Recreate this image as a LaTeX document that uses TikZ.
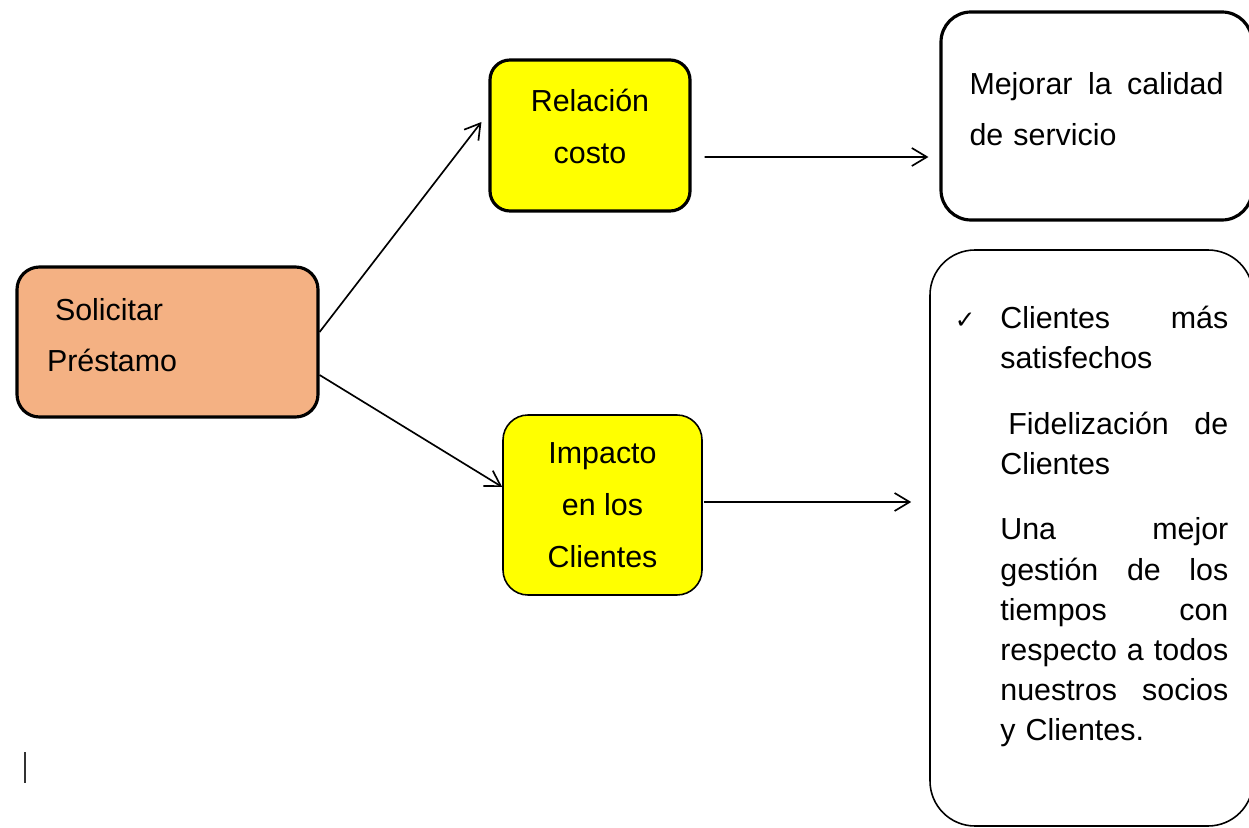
\documentclass[tikz,border=0pt]{standalone}
\usepackage{fontspec}
\setmainfont{Liberation Sans}
\newfontfamily\symbfont{DejaVu Sans}
\usetikzlibrary{arrows.meta, positioning}
\definecolor{salmon}{HTML}{F4B183}
\definecolor{brightyellow}{HTML}{FFFF00}

\begin{document}
\begin{tikzpicture}[>={Straight Barb[length=0.3cm, width=0.36cm]},
    box/.style={draw, rounded corners=0.45cm, line width=1.8pt, inner sep=0pt, font=\fontsize{17.3}{29.5}\selectfont},
    thinbox/.style={box, line width=0.9pt},
    link/.style={->, line width=0.95pt}]
                \useasboundingbox (0,0) rectangle (24.98,16.54);

                % Start
                \node[box, fill=salmon, minimum width=6.02cm, minimum height=3.0cm, text width=4.82cm, align=left] (solicitar) at (3.35,9.70) {\hspace{0.16cm}Solicitar\\Préstamo\rule[-0.28cm]{0pt}{0pt}};

                % Middle
                \node[box, fill=brightyellow, rounded corners=0.4cm, minimum width=4.0cm, minimum height=3.02cm, align=center] (relacion) at (11.80,13.83) {Relación\\costo\rule[-0.36cm]{0pt}{0pt}};
                \node[thinbox, fill=brightyellow, rounded corners=0.5cm, minimum width=3.98cm, minimum height=3.6cm, align=center] (impacto) at (12.05,6.44) {Impacto\\en los\\Clientes};

                % Results
                \node[box, rounded corners=0.6cm, minimum width=6.22cm, minimum height=4.16cm, text width=5.08cm, align=left, font=\fontsize{17.3}{28.5}\selectfont] (mejorar) at (21.93,14.22) {Mejorar\hfill la\hfill calidad\\de servicio\rule[-0.28cm]{0pt}{0pt}};
                \node[thinbox, rounded corners=0.9cm, minimum width=6.46cm, minimum height=11.52cm] (resultados) at (21.83,5.78) {};
                \node[anchor=north west, inner sep=0pt, text width=4.56cm, align=left, font=\fontsize{17.3}{22.8}\selectfont] (beneficios) at (20.00,10.42)
                    {\llap{\symbfont\fontsize{14}{14}\selectfont ✓\hspace{0.5cm}}Clientes\hfill más\\
                     satisfechos\\[0.51cm]
                     \hspace{0.16cm}Fidelización\hfill de\\
                     Clientes\\[0.51cm]
                     Una\hfill mejor\\
                     gestión\hfill de\hfill los\\
                     tiempos\hfill con\\
                     respecto\hfill a\hfill todos\\
                     nuestros\hfill socios\\
                     y Clientes.};

                % Arrows
                \draw[link] ([yshift=0.2cm]solicitar.east) -- ([xshift=-0.14cm, yshift=0.27cm]relacion.west);
                \draw[link] ([yshift=-0.66cm]solicitar.east) -- ([yshift=0.36cm]impacto.west);
                \draw[link] ([xshift=0.26cm, yshift=-0.43cm]relacion.east) -- ([xshift=-0.22cm, yshift=-0.82cm]mejorar.west);
                \draw[link] ([xshift=0.02cm, yshift=0.06cm]impacto.east) -- ([xshift=-0.36cm, yshift=0.72cm]resultados.west);

                % Cursor mark
                \coordinate (cursor) at (0.50,1.50);
                \draw[line width=1.2pt, black!80] (cursor) -- ++(0,-0.62);
\end{tikzpicture}
\end{document}
